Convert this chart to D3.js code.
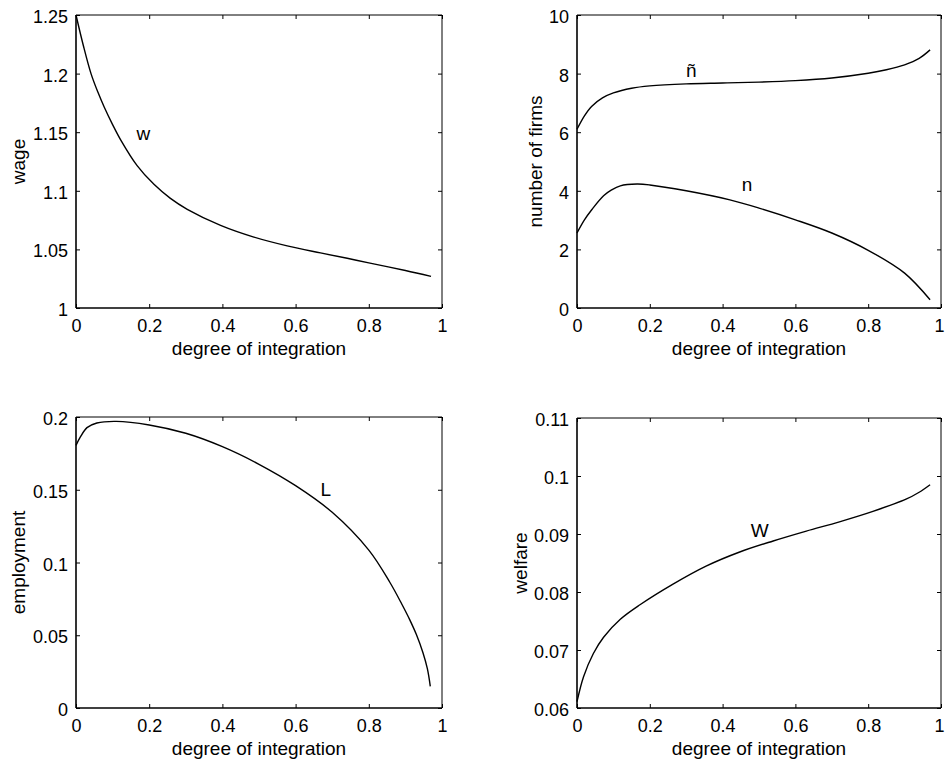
<!DOCTYPE html>
<html>
<head>
<meta charset="utf-8">
<script src="https://cdn.jsdelivr.net/npm/d3@7"></script>
<style>
  html, body { margin: 0; padding: 0; background: #fff; }
  svg { display: block; }
  text { font-family: "Liberation Sans", Arial, Helvetica, sans-serif; fill: #000; }
</style>
</head>
<body>
<svg id="chart" width="945" height="760"></svg>
<script>
// ---------- data ----------
const xTicks = [0, 0.2, 0.4, 0.6, 0.8, 1];
const xAxisTitle = "degree of integration";

// panel 1: wage
const wageX = [0, 0.02, 0.041, 0.06, 0.077, 0.1, 0.122, 0.167, 0.213, 0.258, 0.304, 0.395, 0.486, 0.577, 0.668, 0.741, 0.8, 0.9, 0.97];
const wageY = [1.25, 1.224, 1.2, 1.184, 1.1715, 1.1565, 1.1435, 1.1215, 1.1055, 1.0935, 1.0842, 1.0705, 1.0605, 1.053, 1.047, 1.0424, 1.0385, 1.032, 1.027];
const wageTicks = [1, 1.05, 1.1, 1.15, 1.2, 1.25];

// panel 2: number of firms
const nTildeX = [0, 0.02, 0.04, 0.07, 0.1, 0.15, 0.2, 0.3, 0.4, 0.5, 0.6, 0.7, 0.8, 0.85, 0.9, 0.94, 0.97];
const nTildeY = [6.1, 6.55, 6.88, 7.17, 7.34, 7.5, 7.58, 7.65, 7.68, 7.71, 7.76, 7.85, 8.01, 8.13, 8.3, 8.52, 8.81];
const nX = [0, 0.02, 0.0415, 0.073, 0.095, 0.119, 0.165, 0.2, 0.3, 0.42, 0.5, 0.6, 0.7, 0.8, 0.9, 0.97];
const nY = [2.56, 3.0, 3.37, 3.83, 4.03, 4.17, 4.23, 4.2, 4.0, 3.69, 3.41, 3.01, 2.56, 1.97, 1.19, 0.28];
const firmTicks = [0, 2, 4, 6, 8, 10];

// panel 3: employment
const empX = [0, 0.012, 0.03, 0.057, 0.11, 0.2, 0.3, 0.4, 0.5, 0.6, 0.7, 0.8, 0.857, 0.89, 0.912, 0.93, 0.948, 0.96, 0.968];
const empY = [0.1805, 0.1863, 0.1927, 0.1959, 0.197, 0.1945, 0.1888, 0.1796, 0.1675, 0.1528, 0.1345, 0.1085, 0.0866, 0.0715, 0.0606, 0.0505, 0.038, 0.027, 0.0149];
const empTicks = [0, 0.05, 0.1, 0.15, 0.2];

// panel 4: welfare
const welX = [0, 0.018, 0.045, 0.073, 0.119, 0.173, 0.265, 0.356, 0.447, 0.539, 0.63, 0.721, 0.813, 0.904, 0.94, 0.97];
const welY = [0.0611, 0.0654, 0.0694, 0.0722, 0.0753, 0.0778, 0.0814, 0.0845, 0.0869, 0.0888, 0.0905, 0.0921, 0.0939, 0.096, 0.0972, 0.0985];
const welTicks = [0.06, 0.07, 0.08, 0.09, 0.1, 0.11];

// ---------- panels ----------
const zip = (xs, ys) => xs.map((x, i) => [x, ys[i]]);

const panels = [
  { left: 76, top: 15, width: 366, height: 293, yDomain: [1, 1.25], yTicks: wageTicks, yLabel: "wage", yLabelOff: 51, edge: false,
    series: [{ pts: zip(wageX, wageY), label: "w", lx: 0.184, ly: 1.1435 }] },
  { left: 577, top: 15, width: 364, height: 293, yDomain: [0, 10], yTicks: firmTicks, yLabel: "number of firms", yLabelOff: 35, edge: true,
    series: [{ pts: zip(nTildeX, nTildeY), label: "ñ", lx: 0.314, ly: 7.9 },
             { pts: zip(nX, nY), label: "n", lx: 0.467, ly: 4.0 }] },
  { left: 76, top: 417, width: 366, height: 291, yDomain: [0, 0.2], yTicks: empTicks, yLabel: "employment", yLabelOff: 51, edge: false,
    series: [{ pts: zip(empX, empY), label: "L", lx: 0.6825, ly: 0.1455 }] },
  { left: 577, top: 418, width: 364, height: 290, yDomain: [0.06, 0.11], yTicks: welTicks, yLabel: "welfare", yLabelOff: 50, edge: true,
    series: [{ pts: zip(welX, welY), label: "W", lx: 0.502, ly: 0.0895 }] }
];

const svg = d3.select("#chart");
const fmt = d => String(d);

panels.forEach(p => {
  const g = svg.append("g").attr("transform", `translate(${p.left},${p.top})`);
  const x = d3.scaleLinear().domain([0, 1]).range([0, p.width]);
  const y = d3.scaleLinear().domain(p.yDomain).range([p.height, 0]);

  const gb = g.append("g").attr("transform", `translate(0,${p.height})`)
    .call(d3.axisBottom(x).tickValues(xTicks).tickFormat(fmt).tickSize(-4).tickPadding(11));
  const gl = g.append("g")
    .call(d3.axisLeft(y).tickValues(p.yTicks).tickFormat(fmt).tickSize(-4).tickPadding(8));
  const gt = g.append("g").call(d3.axisTop(x).tickValues(xTicks).tickFormat("").tickSize(-4));
  const gr = g.append("g").attr("transform", `translate(${p.width},0)`)
    .call(d3.axisRight(y).tickValues(p.yTicks).tickFormat("").tickSize(-4));

  [gb, gl, gt, gr].forEach(a => {
    a.select(".domain").remove();
    a.selectAll(".tick line").attr("stroke", "#000").attr("stroke-width", 1);
    a.selectAll(".tick text").attr("font-size", 18).attr("font-family", '"Liberation Sans", Arial, Helvetica, sans-serif').attr("fill", "#000");
  });
  gl.selectAll(".tick text").attr("dy", "0.42em");
  if (p.edge) {
    // last x tick label sits on the window's right edge: keep it inside
    gb.selectAll(".tick text").filter(d => d === 1)
      .attr("text-anchor", "end").attr("x", 945 - p.left - p.width - 1);
  }

  // frame
  g.append("line").attr("x1", 0).attr("x2", p.width).attr("y1", 0).attr("y2", 0).attr("stroke", "#000").attr("stroke-width", 1);
  g.append("line").attr("x1", p.width).attr("x2", p.width).attr("y1", 0).attr("y2", p.height).attr("stroke", "#000").attr("stroke-width", 1);
  g.append("line").attr("x1", 0).attr("x2", p.width).attr("y1", p.height).attr("y2", p.height).attr("stroke", "#000").attr("stroke-width", 1.6);
  g.append("line").attr("x1", 0).attr("x2", 0).attr("y1", 0).attr("y2", p.height).attr("stroke", "#000").attr("stroke-width", 1.6);

  // axis titles
  g.append("text").attr("x", p.width / 2).attr("y", p.height + 47)
    .attr("text-anchor", "middle").attr("font-size", 19).text(xAxisTitle);
  g.append("text").attr("transform", `translate(${-p.yLabelOff},${p.height / 2}) rotate(-90)`)
    .attr("text-anchor", "middle").attr("font-size", 19).text(p.yLabel);

  // curves
  const line = d3.line().x(d => x(d[0])).y(d => y(d[1])).curve(d3.curveCatmullRom.alpha(0.5));
  p.series.forEach(s => {
    g.append("path").datum(s.pts).attr("d", line)
      .attr("fill", "none").attr("stroke", "#000").attr("stroke-width", 1.4);
    g.append("text").attr("x", x(s.lx)).attr("y", y(s.ly))
      .attr("text-anchor", "middle").attr("font-size", 19).text(s.label);
  });
});
</script>
</body>
</html>
